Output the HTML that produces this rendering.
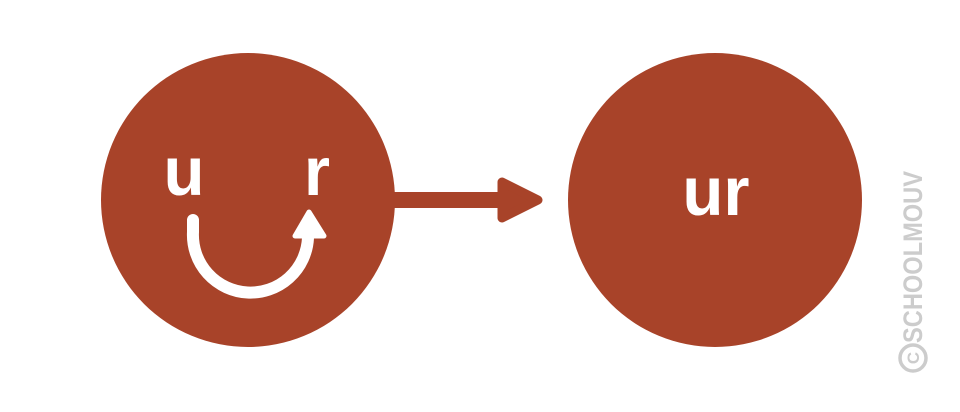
<!DOCTYPE html>
<html><head><style>html,body{margin:0;padding:0;background:#fff}</style></head><body>
<svg width="960" height="407" viewBox="0 0 960 407" xmlns="http://www.w3.org/2000/svg">
<circle cx="248" cy="200" r="147" fill="#a84329"/>
<circle cx="715" cy="200" r="147" fill="#a84329"/>
<rect x="390" y="192" width="118" height="16" fill="#a84329"/>
<path d="M502 182 L538 200 L502 218 Z" fill="#a84329" stroke="#a84329" stroke-width="9" stroke-linejoin="round"/>
<g font-family="Liberation Sans, sans-serif" font-weight="bold" fill="#fff">
<text x="184" y="195" font-size="60" text-anchor="middle" transform="translate(184 195) scale(1.12 1.15) translate(-184 -195)">u</text>
<text x="317" y="195" font-size="60" text-anchor="middle" transform="translate(317 195) scale(1.12 1.15) translate(-317 -195)">r</text>
<text x="716" y="215" font-size="60" text-anchor="middle" transform="translate(716 215) scale(1.12 1.15) translate(-716 -215)">ur</text>
</g>
<path d="M193 220 L193 232 A57 57 0 0 0 308 238" fill="none" stroke="#fff" stroke-width="12" stroke-linecap="round"/>
<path d="M309 212 L324 236 L295 236 Z" fill="#fff" stroke="#fff" stroke-width="5" stroke-linejoin="round"/>
<g fill="#cccccc">
<text transform="translate(922 343) rotate(-90)" font-family="Liberation Sans, sans-serif" font-weight="bold" font-size="27" textLength="172" lengthAdjust="spacingAndGlyphs">SCHOOLMOUV</text>
<circle cx="913" cy="358" r="13" fill="none" stroke="#cccccc" stroke-width="3.5"/>
<text transform="translate(919 358) rotate(-90)" font-family="Liberation Sans, sans-serif" font-weight="bold" font-size="17" text-anchor="middle">C</text>
</g>
</svg>
</body></html>
